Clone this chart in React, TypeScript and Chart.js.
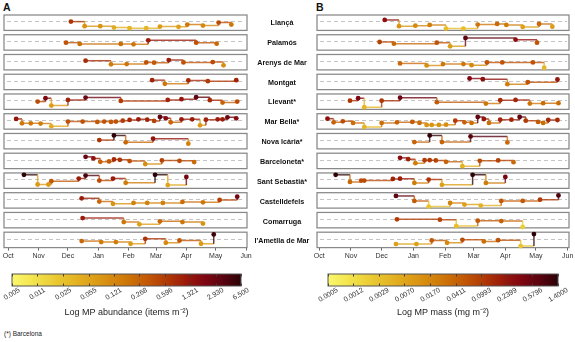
import React, { useEffect, useRef } from 'react';
import { Chart, registerables } from 'chart.js';

Chart.register(...registerables);

// ---------------- data ----------------
const siteNames = [
  'Llançà', 'Palamós', 'Arenys de Mar', 'Montgat', 'Llevant*', 'Mar Bella*',
  'Nova Icària*', 'Barceloneta*', 'Sant Sebastià*', 'Castelldefels', 'Comarruga', "l'Ametlla de Mar",
];

// log10 MP abundance (items m-2) and log10 MP mass (mg m-2) per sampling date
const llancaDates = ['2018-12-04', '2018-12-18', '2019-01-03', '2019-01-17', '2019-02-02', '2019-02-19', '2019-03-05', '2019-03-24', '2019-04-02', '2019-04-18', '2019-05-04', '2019-05-17'];
const llancaAbundance = [-0.15, -1.07, -1.07, -1.35, -1.47, -1.47, -1.15, -1.21, -0.75, -0.95, -0.35, -0.75];
const llancaMass = [-0.55, -1.95, -1.82, -1.66, -2.48, -2.48, -1.59, -1.44, -1.66, -2.1, -1.44, -2.04];

const palamosDates = ['2018-11-29', '2018-12-13', '2019-01-24', '2019-02-06', '2019-02-21', '2019-04-11', '2019-05-02'];
const palamosAbundance = [-0.41, -0.67, -0.67, -0.75, 0.05, -0.41, -0.61];
const palamosMass = [-1.06, -1.44, -1.22, -2.04, -0.17, -0.55, -1.22];

const arenysDates = ['2018-12-19', '2019-01-14', '2019-01-30', '2019-02-19', '2019-02-27', '2019-03-14', '2019-03-29', '2019-04-28', '2019-05-09'];
const arenysAbundance = [-0.07, -0.81, -0.75, -0.41, -0.47, 0.05, -0.41, -0.35, -1.01];
const arenysMass = [-1.44, -1.88, -1.59, -1.59, -1.82, -1.22, -1.22, -1.22, -2.4];

const montgatDates = ['2019-02-25', '2019-03-10', '2019-04-03', '2019-04-23', '2019-05-22'];
const montgatAbundance = [-0.01, -0.75, -0.07, -0.21, -0.01];
const montgatMass = [-0.4, -0.55, -1.66, -1.22, -0.62];

const llevantDates = ['2018-10-31', '2018-11-08', '2018-11-14', '2018-12-01', '2018-12-19', '2019-01-24', '2019-03-13', '2019-03-27', '2019-04-11', '2019-04-25', '2019-05-08', '2019-05-23'];
const llevantAbundance = [-0.35, 0.33, -1.15, -0.01, 0.45, -0.21, -0.01, 0.13, 0.53, -0.07, -0.55, -0.35];
const llevantMass = [-0.93, -0.39, -2.39, -0.93, -0.26, -1.28, -1.59, -0.84, -0.77, -1.59, -1.5, -1.5];

const marBellaDates = ['2018-10-09', '2018-10-15', '2018-10-24', '2018-11-03', '2018-11-14', '2018-12-01', '2018-12-16', '2018-12-31', '2019-01-07', '2019-01-14', '2019-01-19', '2019-01-26', '2019-02-02', '2019-02-11', '2019-02-20', '2019-02-27', '2019-03-05', '2019-03-11', '2019-03-16', '2019-03-27', '2019-04-07', '2019-04-15', '2019-04-21', '2019-05-03', '2019-05-08', '2019-05-13', '2019-05-22'];
const marBellaAbundance = [0.13, -0.75, -0.75, -0.81, -1.35, -0.41, -0.41, -0.47, -0.41, -0.47, -0.41, -0.21, -0.07, 0.05, -0.01, -0.27, 0.53, 0.25, -0.55, 0.05, 0.05, -1.15, -0.01, 0.05, 0.05, 0.45, 0.25];
const marBellaMass = [-0.55, -1.37, -1.15, -1.5, -2.39, -1.5, -1.37, -1.28, -1.5, -1.95, -1.95, -1.95, -1.88, -0.99, -1.37, -1.5, -0.17, -0.62, -1.5, -0.77, -0.77, -0.17, -0.99, -1.28, -1.5, -0.84, -0.84];

const novaIcariaDates = ['2019-01-02', '2019-01-17', '2019-01-29', '2019-02-26', '2019-04-03'];
const novaIcariaAbundance = [-0.15, 0.8, -0.61, 0.13, -0.87];
const novaIcariaMass = [-1.37, 0.12, -1.37, -0.11, -1.44];

const barcelonetaDates = ['2018-12-19', '2018-12-27', '2019-01-03', '2019-01-12', '2019-01-17', '2019-01-23', '2019-02-02', '2019-02-18', '2019-03-07', '2019-03-25', '2019-04-09'];
const barcelonetaAbundance = [0.45, 0.13, -0.55, -0.47, -0.07, -0.15, -0.41, -1.01, -0.27, -0.35, -0.61];
const barcelonetaMass = [-0.48, -0.77, -1.66, -0.99, -0.99, -1.06, -1.37, -2.33, -1.15, -1.06, -1.44];

const santSebastiaDates = ['2018-10-17', '2018-10-31', '2018-11-11', '2018-11-14', '2018-12-12', '2018-12-19', '2019-01-02', '2019-01-16', '2019-01-29', '2019-02-28', '2019-03-13', '2019-04-01'];
const santSebastiaAbundance = [0.81, -1.15, -1.15, -0.47, 0.05, 0.65, -0.35, 0.05, -0.81, 0.81, -1.27, 0.39];
const santSebastiaMass = [0.14, -1.44, -1.15, -1.15, -0.77, -0.71, -1.66, -0.93, -2.1, 0.14, -1.66, -0.33];

const castelldefelsDates = ['2018-12-15', '2019-01-02', '2019-01-16', '2019-02-06', '2019-02-20', '2019-03-08', '2019-03-28', '2019-04-18', '2019-05-05', '2019-05-23'];
const castelldefelsAbundance = [0.05, -0.61, -1.07, -0.87, -0.87, -0.87, -0.67, -0.75, -0.27, 0.39];
const castelldefelsMass = [-0.17, -1.28, -2.55, -1.73, -2.1, -2.33, -1.28, -1.28, -0.99, -0.04];

const comarrugaDates = ['2018-12-16', '2019-01-27', '2019-02-12', '2019-03-05', '2019-03-28', '2019-04-18'];
const comarrugaAbundance = [0.05, -0.75, -1.21, -0.61, -0.75, -1.07];
const comarrugaMass = [-0.99, -1.06, -2.48, -1.28, -1.37, -2.7];

const ametllaDates = ['2018-12-15', '2019-01-04', '2019-01-19', '2019-02-03', '2019-02-18', '2019-03-11', '2019-03-25', '2019-04-16', '2019-04-29'];
const ametllaAbundance = [-0.61, -0.81, -0.81, -1.15, -0.15, -0.95, -0.47, -1.15, 0.73];
const ametllaMass = [-2.1, -2.1, -1.28, -1.82, -1.15, -1.5, -1.22, -2.55, 0.14];

const siteDates = [llancaDates, palamosDates, arenysDates, montgatDates, llevantDates, marBellaDates, novaIcariaDates, barcelonetaDates, santSebastiaDates, castelldefelsDates, comarrugaDates, ametllaDates];
const abundanceBySite = [llancaAbundance, palamosAbundance, arenysAbundance, montgatAbundance, llevantAbundance, marBellaAbundance, novaIcariaAbundance, barcelonetaAbundance, santSebastiaAbundance, castelldefelsAbundance, comarrugaAbundance, ametllaAbundance];
const massBySite = [llancaMass, palamosMass, arenysMass, montgatMass, llevantMass, marBellaMass, novaIcariaMass, barcelonetaMass, santSebastiaMass, castelldefelsMass, comarrugaMass, ametllaMass];

const monthLabels = ['Oct', 'Nov', 'Dec', 'Jan', 'Feb', 'Mar', 'Apr', 'May', 'Jun'];
const monthStarts = ['2018-10-01', '2018-11-01', '2018-12-01', '2019-01-01', '2019-02-01', '2019-03-01', '2019-04-01', '2019-05-01', '2019-06-01'];

const abundanceTickLabels = ['0.005', '0.011', '0.025', '0.055', '0.121', '0.268', '0.596', '1.321', '2.930', '6.500'];
const massTickLabels = ['0.0005', '0.0012', '0.0029', '0.0070', '0.0170', '0.0411', '0.0993', '0.2399', '0.5796', '1.4000'];

// ---------------- style / helpers ----------------
const FONT = "'Liberation Sans', Arial, Helvetica, sans-serif";
Chart.defaults.font.family = FONT;

const ORIGIN = Date.UTC(2018, 9, 1);
const dayIndex = (s: string) => (Date.parse(s + 'T00:00:00Z') - ORIGIN) / 86400000;

const COLOR_STOPS: [number, string][] = [
  [0.0, '#fbf86c'],
  [0.1, '#f2e24a'],
  [0.22, '#e8c22c'],
  [0.35, '#dea018'],
  [0.48, '#d07c0a'],
  [0.58, '#c45c06'],
  [0.68, '#b03806'],
  [0.76, '#9a1a0a'],
  [0.84, '#800612'],
  [0.92, '#5a0410'],
  [1.0, '#2c0206'],
];
const hexRgb = (h: string) => [parseInt(h.slice(1, 3), 16), parseInt(h.slice(3, 5), 16), parseInt(h.slice(5, 7), 16)];
function colorAt(t: number, a = 1) {
  const tt = Math.max(0, Math.min(1, t));
  let k = 0;
  while (k < COLOR_STOPS.length - 2 && tt > COLOR_STOPS[k + 1][0]) k++;
  const [t0, c0] = COLOR_STOPS[k];
  const [t1, c1] = COLOR_STOPS[k + 1];
  const f = (tt - t0) / (t1 - t0);
  const r0 = hexRgb(c0), r1 = hexRgb(c1);
  const c = r0.map((v, i) => Math.round(v + (r1[i] - v) * f));
  return `rgba(${c[0]},${c[1]},${c[2]},${a})`;
}

const PANEL_H = 15.5;
const GAP_H = 4.35;
const TOP = 15;
const Y_LO = 0.12; // panel bottom, as fraction of colour range
const Y_HI = 1.12; // panel top
const DASH_T = 0.71;

function columnConfig(values: number[][], tickLabels: string[], xMin: number, xMax: number, padLeft: number, padRight: number) {
  const logMin = Math.log10(Number(tickLabels[0]));
  const logMax = Math.log10(Number(tickLabels[tickLabels.length - 1]));
  const span = logMax - logMin;
  const tOf = (v: number) => (v - logMin) / span;
  const scales: any = {
    x: {
      type: 'linear', position: 'bottom', min: xMin, max: xMax,
      afterBuildTicks: (s: any) => { s.ticks = monthStarts.map((m) => ({ value: dayIndex(m) })); },
      afterFit: (s: any) => { s.paddingLeft = 0; s.paddingRight = 0; },
      ticks: { autoSkip: false, maxRotation: 0, minRotation: 0, padding: 1, font: { size: 7 }, color: '#333', callback: (_v: any, i: number) => monthLabels[i] },
      grid: { drawOnChartArea: false, drawTicks: true, tickLength: 3, color: '#444', lineWidth: 0.8 },
      border: { display: false },
    },
  };
  siteNames.forEach((_, i) => {
    scales['p' + i] = { type: 'linear', axis: 'y', position: 'left', stack: 'rows', stackWeight: PANEL_H, weight: 100 - 2 * i, display: false, min: logMin + Y_LO * span, max: logMin + Y_HI * span };
    if (i < siteNames.length - 1) {
      scales['s' + i] = { type: 'linear', axis: 'y', position: 'left', stack: 'rows', stackWeight: GAP_H, weight: 99 - 2 * i, display: false, min: 0, max: 1 };
    }
  });
  const datasets = siteNames.map((_, i) => {
    const dates = siteDates[i];
    const vals = values[i];
    const data: any[] = [];
    dates.forEach((d, k) => {
      data.push({ x: dayIndex(d), y: vals[k], real: true });
      if (k < dates.length - 1) data.push({ x: dayIndex(dates[k + 1]), y: vals[k], real: false, next: vals[k + 1] });
    });
    const ptColor = (c: any) => colorAt(tOf(c.raw ? c.raw.y : logMin));
    return {
      data, yAxisID: 'p' + i, xAxisID: 'x', clip: false, tension: 0, fill: false,
      borderWidth: 1.5, borderColor: '#c87010',
      pointRadius: (c: any) => (c.raw && c.raw.real ? 2.4 : 0),
      pointBorderWidth: 0,
      pointBackgroundColor: ptColor,
      pointBorderColor: ptColor,
      segment: {
        borderColor: (c: any) => {
          const p = data[c.p0DataIndex];
          return colorAt(tOf(p.real ? p.y : p.next), 0.78);
        },
      },
    };
  });
  const dashValue = logMin + DASH_T * span;
  const panelPlugin = {
    id: 'panels',
    beforeDatasetsDraw(chart: any) {
      const { ctx, chartArea } = chart;
      ctx.save();
      siteNames.forEach((_, i) => {
        const s = chart.scales['p' + i];
        const yd = Math.round(s.getPixelForValue(dashValue)) + 0.5;
        ctx.setLineDash([4, 3]);
        ctx.strokeStyle = '#c4c4c4';
        ctx.lineWidth = 1;
        ctx.beginPath();
        ctx.moveTo(chartArea.left + 3, yd);
        ctx.lineTo(chartArea.right - 2, yd);
        ctx.stroke();
        ctx.setLineDash([]);
        ctx.strokeStyle = '#888';
        ctx.lineWidth = 1.25;
        ctx.strokeRect(chartArea.left, s.top, chartArea.right - chartArea.left, s.bottom - s.top);
      });
      ctx.restore();
    },
  };
  return {
    type: 'line',
    data: { datasets },
    options: {
      responsive: false, maintainAspectRatio: false, animation: false, events: [],
      layout: { padding: { top: TOP, left: padLeft, right: padRight, bottom: 0 } },
      plugins: { legend: { display: false }, tooltip: { enabled: false } },
      scales,
    },
    plugins: [panelPlugin],
  };
}

const BAR_AXIS_H = 32;

function colorbarConfig(tickLabels: string[], title: string, labelOffset: number, padLeft: number, padRight: number) {
  const vals = tickLabels.map((v) => Math.log10(Number(v)));
  const logMin = vals[0];
  const logMax = vals[vals.length - 1];
  const barPlugin = {
    id: 'cbar',
    afterDatasetsDraw(chart: any) {
      const { ctx, chartArea: a } = chart;
      const s = chart.scales.x;
      const x0 = s.getPixelForValue(logMin);
      const x1 = s.getPixelForValue(logMax);
      const g = ctx.createLinearGradient(x0, 0, x1, 0);
      COLOR_STOPS.forEach(([t, c]) => g.addColorStop(t, c));
      ctx.save();
      ctx.fillStyle = g;
      ctx.fillRect(x0, a.top, x1 - x0, a.bottom - a.top);
      ctx.strokeStyle = '#3a3a3a';
      ctx.lineWidth = 1;
      s.ticks.forEach((t: any) => {
        const x = Math.round(s.getPixelForValue(t.value)) + 0.5;
        ctx.beginPath();
        ctx.moveTo(x, a.top); ctx.lineTo(x, a.top + 2.5);
        ctx.moveTo(x, a.bottom); ctx.lineTo(x, a.bottom - 2.5);
        ctx.stroke();
      });
      ctx.strokeStyle = '#555';
      ctx.strokeRect(x0, a.top, x1 - x0, a.bottom - a.top);
      ctx.restore();
    },
  };
  return {
    type: 'line',
    data: { datasets: [] },
    options: {
      responsive: false, maintainAspectRatio: false, animation: false, events: [],
      layout: { padding: { top: 12, left: padLeft, right: padRight, bottom: 0 } },
      plugins: { legend: { display: false }, tooltip: { enabled: false } },
      scales: {
        x: {
          type: 'linear', min: logMin, max: logMax,
          afterBuildTicks: (s: any) => { s.ticks = vals.map((v) => ({ value: v })); },
          afterFit: (s: any) => { s.paddingLeft = 0; s.paddingRight = 0; s.height = BAR_AXIS_H; },
          ticks: { autoSkip: false, minRotation: 30, maxRotation: 30, labelOffset, padding: 0, font: { size: 7 }, color: '#333', callback: (_v: any, i: number) => tickLabels[i] },
          grid: { display: false, drawTicks: false, tickLength: 0 },
          border: { display: false },
          title: { display: true, text: title, font: { size: 9 }, color: '#222', padding: { top: 3, bottom: 0 } },
        },
        y: { display: false, min: 0, max: 1 },
      },
    },
    plugins: [barPlugin],
  };
}

function ChartCanvas(props: { left: number; top: number; width: number; height: number; make: () => any }) {
  const ref = useRef<HTMLCanvasElement>(null);
  useEffect(() => {
    const chart = new Chart(ref.current as HTMLCanvasElement, props.make());
    return () => chart.destroy();
  }, []);
  const { left, top, width, height } = props;
  return <canvas ref={ref} width={width} height={height} style={{ position: 'absolute', left, top, width, height }} />;
}

export default function App() {
  const pitch = PANEL_H + GAP_H;
  return (
    <div style={{ position: 'absolute', left: 0, top: 0, width: 575, height: 342, background: '#fff', overflow: 'hidden', fontFamily: FONT }}>
      <div style={{ position: 'absolute', left: 3, top: 2, fontSize: 10.5, fontWeight: 700, lineHeight: '11px', color: '#111' }}>A</div>
      <div style={{ position: 'absolute', left: 316, top: 2, fontSize: 10.5, fontWeight: 700, lineHeight: '11px', color: '#111' }}>B</div>
      <ChartCanvas left={0} top={0} width={257} height={261} make={() => columnConfig(abundanceBySite, abundanceTickLabels, -4.4, 244, 3, 10)} />
      <ChartCanvas left={310} top={0} width={265} height={261} make={() => columnConfig(massBySite, massTickLabels, -2.25, 244.3, 7, 6)} />
      {siteNames.map((n, i) => (
        <div key={n} style={{ position: 'absolute', left: 242, width: 80, top: TOP + i * pitch, height: PANEL_H, lineHeight: PANEL_H + 'px', textAlign: 'center', fontWeight: 700, fontSize: 7.2, color: '#111', whiteSpace: 'nowrap' }}>{n}</div>
      ))}
      <ChartCanvas left={0} top={262} width={255} height={24 + BAR_AXIS_H} make={() => colorbarConfig(abundanceTickLabels, 'Log MP abundance (items m\u207B\u00B2)', 7.5, 12, 14)} />
      <ChartCanvas left={300} top={262} width={275} height={24 + BAR_AXIS_H} make={() => colorbarConfig(massTickLabels, 'Log MP mass (mg m\u207B\u00B2)', 9.5, 28, 17)} />
      <div style={{ position: 'absolute', left: 4, top: 330, fontSize: 6.5, color: '#222', lineHeight: '8px' }}>(*) Barcelona</div>
    </div>
  );
}
